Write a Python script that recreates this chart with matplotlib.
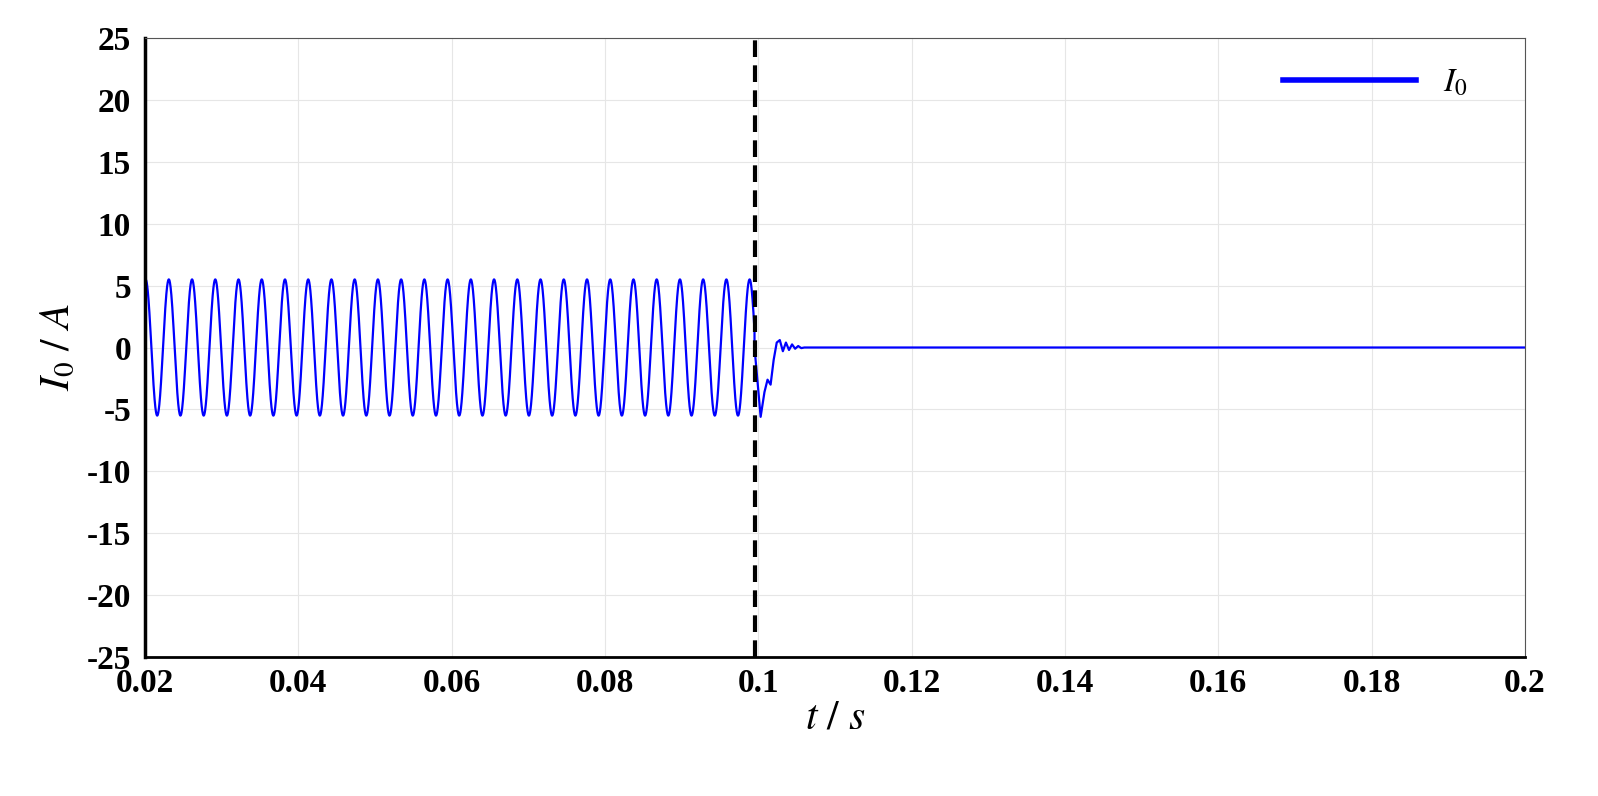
import numpy as np
import matplotlib
matplotlib.use("Agg")
import matplotlib.pyplot as plt

# steady-state oscillation
amplitude = 5.5          # A
frequency = 330.0        # Hz (about 26-27 cycles between 0.02 and 0.1 s)
t_start = 0.02
t_fault = 0.0995
t_end = 0.2

# post-fault transient samples (t, I0)
trans_t = [0.0995, 0.1003, 0.1008, 0.1012, 0.1016, 0.1020, 0.1024, 0.1028,
           0.1032, 0.1036, 0.1040, 0.1044, 0.1048, 0.1052, 0.1056, 0.1060, 0.2]
trans_i = [0.0, -5.6, -3.6, -2.6, -3.0, -1.0, 0.4, 0.6, -0.3, 0.4, -0.2, 0.25,
           -0.1, 0.12, -0.05, 0.0, 0.0]

xticks = [0.02, 0.04, 0.06, 0.08, 0.1, 0.12, 0.14, 0.16, 0.18, 0.2]
xlabels = ["0.02", "0.04", "0.06", "0.08", "0.1", "0.12", "0.14", "0.16", "0.18", "0.2"]
yticks = list(range(-25, 26, 5))

t1 = np.linspace(t_start, t_fault, 4000)
i1 = amplitude * np.sin(2 * np.pi * frequency * (t1 - t_start) + np.pi / 2 * 0.9)
t = np.concatenate([t1, trans_t])
i0 = np.concatenate([i1, trans_i])

plt.rcParams['font.family'] = ['Liberation Serif', 'DejaVu Serif']
plt.rcParams['mathtext.fontset'] = 'stix'
plt.rcParams['axes.unicode_minus'] = False
fig = plt.figure(figsize=(15.98, 7.96), dpi=100)
ax = fig.add_axes([145 / 1598, 1 - 657 / 796, 1380 / 1598, 619 / 796])

ax.plot(t, i0, color='#0000ff', lw=1.6, label=r'$I_0$')
ax.axvline(t_fault, color='black', ls=(0, (4, 2)), lw=3)

ax.set_xlim(t_start, t_end)
ax.set_ylim(-25, 25)
ax.set_xticks(xticks)
ax.set_xticklabels(xlabels)
ax.set_yticks(yticks)
ax.grid(True, color='#e6e6e6', lw=0.8)
for lab in ax.get_xticklabels() + ax.get_yticklabels():
    lab.set_fontweight('bold')
    lab.set_fontsize(24)
ax.tick_params(axis='y', length=0, pad=10)
ax.tick_params(axis='x', length=0, pad=8)
for s in ax.spines.values():
    s.set_color('#555555')
ax.spines['left'].set_color('black')
ax.spines['left'].set_linewidth(2.5)
ax.spines['bottom'].set_color('black')
ax.spines['bottom'].set_linewidth(2)

ax.set_xlabel(r'$t\ /\ s$', fontsize=30, labelpad=0)
ax.set_ylabel(r'$I_0\ /\ A$', fontsize=30, labelpad=6)

leg = ax.legend(loc='upper right', frameon=False, fontsize=24, handlelength=4,
                bbox_to_anchor=(0.98, 1.0))
for h in leg.get_lines():
    h.set_linewidth(4)

fig.savefig("out.png", dpi=100)
